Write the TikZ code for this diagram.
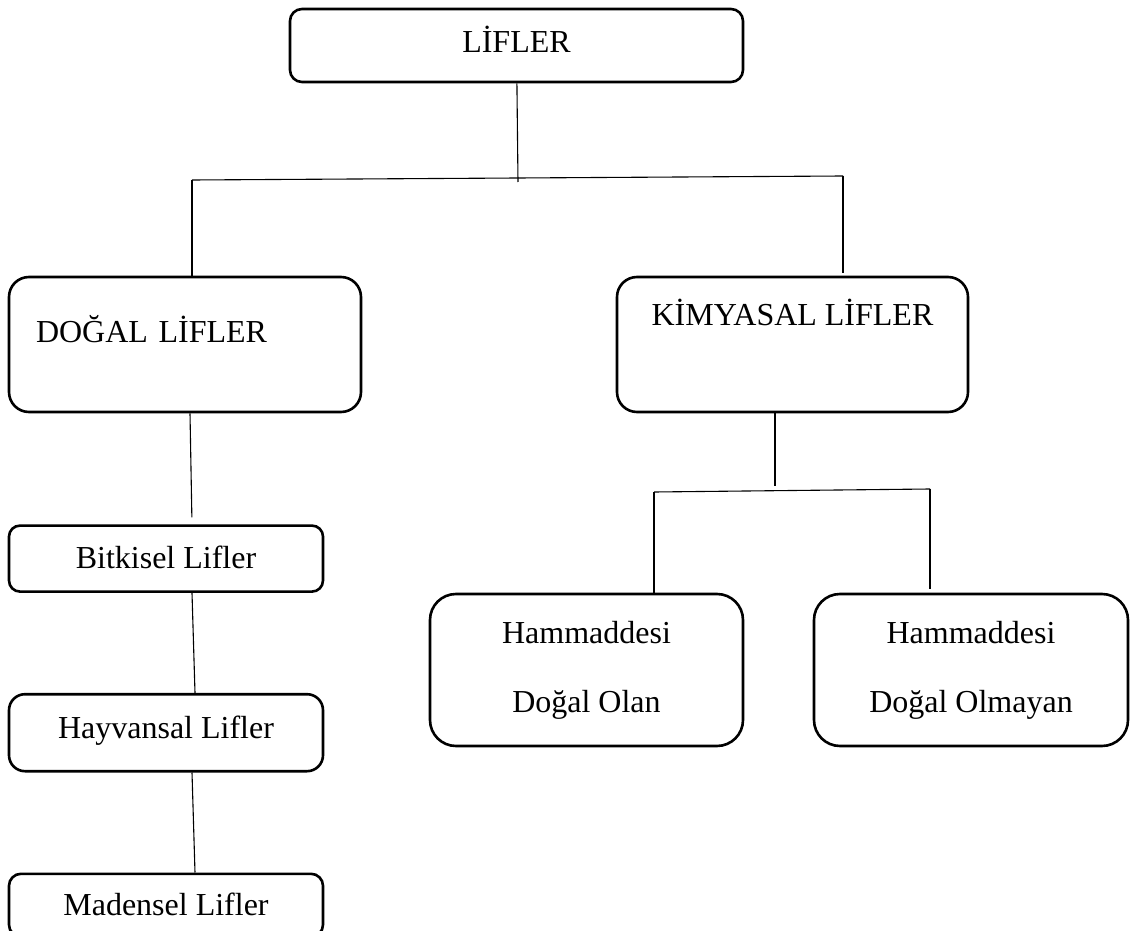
\documentclass[tikz,border=0pt]{standalone}
\usepackage{fontspec}
\setmainfont{Liberation Serif}
\usetikzlibrary{positioning}

\begin{document}
\begin{tikzpicture}[
  x=1pt, y=-1pt,
  box/.style={draw, line width=2.6pt, rounded corners=#1, inner sep=0pt, align=center, font=\fontsize{32}{69}\selectfont},
  box/.default=12pt,
  link/.style={line width=1.1pt}
]
\useasboundingbox (0,0) rectangle (1133,931);
% ust seviye
\node[box, minimum width=453pt, minimum height=73pt, text height=22pt, text depth=7pt] (lifler) at (516.5,45.5) {LİFLER};
\node[box=20pt, minimum width=352pt, minimum height=135pt, text width=298pt, align=left, text height=22pt, text depth=27pt] (dogal) at (185,344.5) {DOĞAL LİFLER};
\node[box=20pt, minimum width=351pt, minimum height=135pt, text height=22pt, text depth=61pt] (kimya) at (792.5,344.5) {KİMYASAL LİFLER};
% dogal lifler
\node[box=11pt, minimum width=314pt, minimum height=66pt, text height=22pt, text depth=2pt, below=111pt of dogal.south west, anchor=north west] (bitki) {Bitkisel Lifler};
\node[box=16pt, minimum width=314pt, minimum height=77pt, text height=22pt, text depth=11pt, below=100pt of bitki] (hayvan) {Hayvansal Lifler};
\node[box=12pt, minimum width=314pt, minimum height=63pt, text height=22pt, text depth=1pt, below=100pt of hayvan] (maden) {Madensel Lifler};
% kimyasal lifler
\node[box=26pt, minimum width=313pt, minimum height=152pt] (hamdogal) at (586.5,670) {Hammaddesi\\Doğal Olan};
\node[box=26pt, minimum width=314pt, minimum height=152pt] (hamsentetik) at (971,670) {Hammaddesi\\Doğal Olmayan};

\coordinate (ayrim) at (518,182);
\coordinate (solkol) at (192,180);
\coordinate (sagkol) at (843,176);
\draw[link] (lifler) -- (ayrim);
\draw[link] (solkol) -- (sagkol);
\draw[link] (solkol) -- (solkol |- dogal.north);
\draw[link, shorten >=3pt] (sagkol) -- (sagkol |- kimya.north);

\coordinate (ayrim2) at (775,486);
\coordinate (solkol2) at (654,492);
\coordinate (sagkol2) at (930,489);
\draw[link] (ayrim2 |- kimya.south) -- (ayrim2);
\draw[link] (solkol2) -- (sagkol2);
\draw[link] (solkol2) -- (solkol2 |- hamdogal.north);
\draw[link, shorten >=4pt] (sagkol2) -- (sagkol2 |- hamsentetik.north);

\draw[link, shorten >=7pt] ([xshift=5pt]dogal.south) -- ([xshift=26pt]bitki.north);
\foreach \ust/\alt in {bitki/hayvan, hayvan/maden} {\draw[link] ([xshift=26pt]\ust.south) -- ([xshift=29pt]\alt.north);}
\end{tikzpicture}
\end{document}
